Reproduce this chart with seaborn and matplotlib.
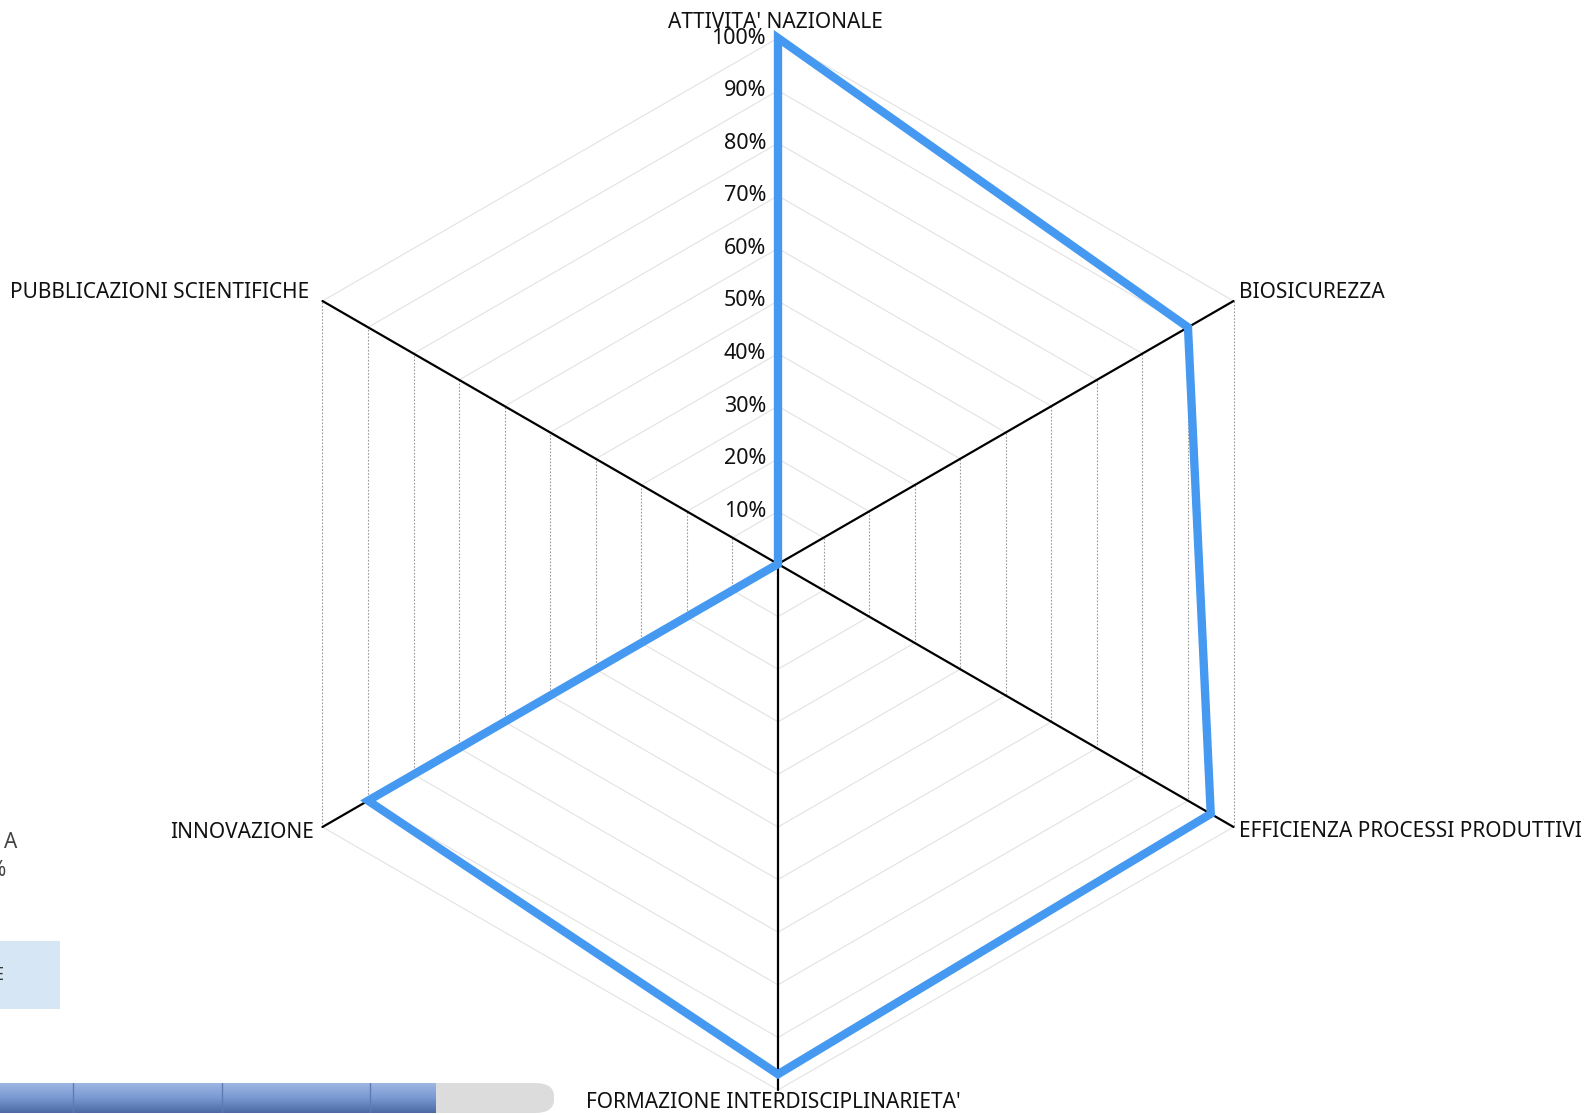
import numpy as np
import pandas as pd
import seaborn as sns
import matplotlib.pyplot as plt
from matplotlib.patches import Rectangle, FancyBboxPatch

categories = ["ATTIVITA' NAZIONALE", "BIOSICUREZZA", "EFFICIENZA PROCESSI PRODUTTIVI",
              "FORMAZIONE INTERDISCIPLINARIETA'", "INNOVAZIONE", "PUBBLICAZIONI SCIENTIFICHE"]
values = [100, 90, 95, 97, 90, 0]
levels = [10, 20, 30, 40, 50, 60, 70, 80, 90, 100]
tick_labels = ['10%', '20%', '30%', '40%', '50%', '60%', '70%', '80%', '90%', '100%']

W, H = 1585, 1115
cx, cy, R = 778, 564, 526
scale = R / 100  # pixels per percent

sns.set_theme(style='white')
plt.rcParams['font.family'] = ['Noto Sans', 'DejaVu Sans']

fig = plt.figure(figsize=(W / 100, H / 100), dpi=100)
ax = fig.add_axes([0, 0, 1, 1])
ax.set_xlim(-cx / scale, (W - cx) / scale)
ax.set_ylim(-(H - cy) / scale, cy / scale)
ax.axis('off')

n = len(categories)
angles = np.deg2rad(np.arange(n) * 360 / n)
ux, uy = np.sin(angles), np.cos(angles)

# hexagon grid: the two vertical sectors are dotted and darker
for lv in levels:
    for i in range(n):
        j = (i + 1) % n
        xs = [lv * ux[i], lv * ux[j]]
        ys = [lv * uy[i], lv * uy[j]]
        if i in (1, 4):
            ax.plot(xs, ys, color='#9a9a9a', lw=0.8, ls=(0, (1.5, 1.5)), zorder=1)
        else:
            ax.plot(xs, ys, color='#e2e2e2', lw=0.8, zorder=1)

# axes spokes
for i in range(n):
    ax.plot([0, 100 * ux[i]], [0, 100 * uy[i]], color='black', lw=1.6, zorder=2)

# tick labels along the top spoke
for lv, lab in zip(levels, tick_labels):
    ax.annotate(lab, xy=(0, lv), xytext=(-12, 0), textcoords='offset pixels',
                ha='right', va='center', fontsize=15.5, color='#111111', zorder=3)

# category labels
label_pos = [((-3, 15), 'center'), ((5, 8), 'left'), ((5, -5), 'left'),
             ((-5, -12), 'center'), ((-8, -5), 'right'), ((-13, 8), 'right')]
for i, cat in enumerate(categories):
    off, ha = label_pos[i]
    ax.annotate(cat, xy=(100 * ux[i], 100 * uy[i]), xytext=off, textcoords='offset pixels',
                ha=ha, va='center', fontsize=15, color='#111111')

# data polygon, starting at the zero point so the path closes there
order = [5, 0, 1, 2, 3, 4, 5]
df = pd.DataFrame({'x': [values[k] * ux[k] for k in order],
                   'y': [values[k] * uy[k] for k in order]})
sns.lineplot(data=df, x='x', y='y', sort=False, estimator=None, ax=ax,
             color='#4599F0', lw=6, solid_joinstyle='miter', solid_capstyle='round', zorder=4)
ax.set_xlabel('')
ax.set_ylabel('')

# fragments of the surrounding page at the left edge
fig.text(17 / W, 1 - 843 / H, 'A', ha='right', va='center', fontsize=15, color='#444444')
fig.text(6 / W, 1 - 870 / H, '%', ha='right', va='center', fontsize=15, color='#444444')
fig.patches.append(Rectangle((0, 1 - 1009 / H), 60 / W, 68 / H, transform=fig.transFigure,
                             facecolor='#d6e6f5', edgecolor='none'))
fig.text(3 / W, 1 - 975 / H, 'E', ha='right', va='center', fontsize=13, color='#333333')

# progress bar
bar_y0, bar_h = 1 - 1113 / H, 30 / H
fig.patches.append(FancyBboxPatch((0, bar_y0), 554 / W, bar_h, transform=fig.transFigure,
                                  boxstyle='round,pad=0,rounding_size=0.012',
                                  facecolor='#dcdcdc', edgecolor='none'))
grad = np.linspace(0, 1, 30).reshape(-1, 1)
bax = fig.add_axes([0, bar_y0, 436 / W, bar_h])
bax.set_zorder(5)
bax.imshow(grad, aspect='auto', cmap=sns.blend_palette(['#9db6e2', '#7898d2', '#4d6aa3'], as_cmap=True),
           extent=(0, 1, 0, 1))
for sx in [73, 222, 370]:
    bax.axvline(sx / 436, color='#5f7bb3', lw=1)
bax.axis('off')

fig.savefig('out.png', dpi=100)
